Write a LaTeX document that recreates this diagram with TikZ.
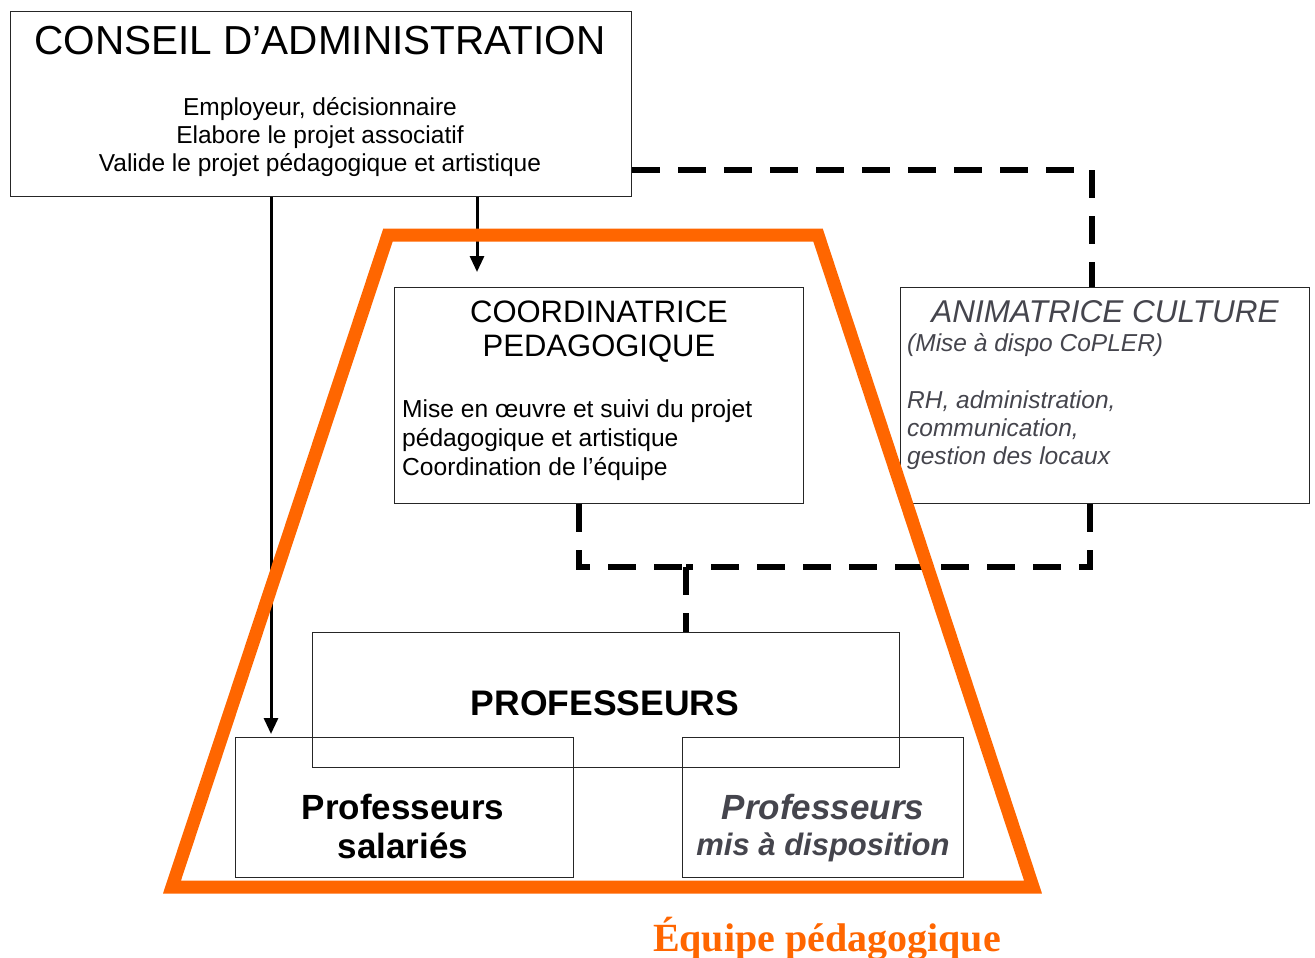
\documentclass[tikz,border=0pt]{standalone}
\usepackage{fontspec}
\setmainfont{Liberation Sans}
\newfontfamily\serifbold{Liberation Serif}
\usetikzlibrary{arrows.meta}
\definecolor{orng}{HTML}{FF6600}
\definecolor{dgray}{HTML}{45454D}
\newcommand\fsz[1]{\fontsize{#1}{#1}\selectfont}
\begin{document}
\begin{tikzpicture}[x=1pt,y=-1pt,
  box/.style={draw=black!85, line width=1.3pt, anchor=north west, inner sep=0pt},
  txt/.style={inner sep=0pt, anchor=base},
  ltxt/.style={inner sep=0pt, anchor=base west},
  dsh/.style={line width=6pt, dash pattern=on 28pt off 18pt},
  arr/.style={line width=3pt, -{Triangle[length=16pt,width=14pt]}},
  trap/.style={draw=orng, line width=13pt, line join=miter}]
\useasboundingbox (0,0) rectangle (1315,958);
\fill[white] (0,0) rectangle (1315,958);

% boxes
\node[box, minimum width=621pt, minimum height=185pt] (conseil) at (10,11) {};
\node[box, minimum width=409pt, minimum height=216pt] (coord) at (394,287) {};
\node[box, minimum width=409pt, minimum height=216pt] (anim) at (900,287) {};
\node[box, minimum width=587pt, minimum height=135pt] (prof) at (312,632) {};
\node[box, minimum width=338pt, minimum height=140pt] (salar) at (235,737) {};
\node[box, minimum width=281pt, minimum height=140pt] (mad) at (682,737) {};

% texts conseil
\node[txt] (t1) at (320,55) {\fsz{40.5}CONSEIL D’ADMINISTRATION};
\node[txt] (t2) at (320,115) {\fsz{24.5}Employeur, décisionnaire};
\node[txt] (t3) at (320,143) {\fsz{24.5}Elabore le projet associatif};
\node[txt] (t4) at (320,171.5) {\fsz{24.5}Valide le projet pédagogique et artistique};

% coordinatrice
\node[txt] (c1) at (599,322) {\fsz{31}COORDINATRICE};
\node[txt] (c2) at (599,356) {\fsz{31}PEDAGOGIQUE};
\node[ltxt] (c3) at (402,417) {\fsz{24.6}Mise en œuvre et suivi du projet};
\node[ltxt] (c4) at (402,446) {\fsz{24.6}pédagogique et artistique};
\node[ltxt] (c5) at (402,475) {\fsz{24.6}Coordination de l’équipe};

% animatrice
\node[txt, text=dgray] (a1) at (1105,322) {\fsz{31.5}\itshape ANIMATRICE CULTURE};
\node[ltxt, text=dgray] (a2) at (907,351) {\fsz{24.5}\itshape (Mise à dispo CoPLER)};
\node[ltxt, text=dgray] (a3) at (907,408) {\fsz{24.5}\itshape RH, administration,};
\node[ltxt, text=dgray] (a4) at (907,436) {\fsz{24.5}\itshape communication,};
\node[ltxt, text=dgray] (a5) at (907,464) {\fsz{24.5}\itshape gestion des locaux};

% professeurs
\node[txt] (p1) at (605,715) {\fsz{35.5}\bfseries PROFESSEURS};
\node[txt] (s1) at (403,819) {\fsz{35}\bfseries Professeurs};
\node[txt] (s2) at (403,858) {\fsz{35}\bfseries salariés};
\node[txt, text=dgray] (m1) at (823,819) {\fsz{35}\bfseries\itshape Professeurs};
\node[txt, text=dgray] (m2) at (823,855) {\fsz{31}\bfseries\itshape mis à disposition};

% dashed connectors
\coordinate (ky) at (0,170);
\coordinate (kx) at (1092,0);
\coordinate (cx) at (579,0);
\coordinate (jy) at (0,567);
\coordinate (ax) at (1090,0);
\coordinate (px) at (686,0);
\draw[dsh] (conseil.east |- ky) -| (anim.north -| kx);
\draw[dsh] (coord.south -| cx) |- (jy -| px);
\draw[dsh] (anim.south -| ax) |- (jy -| px);
\draw[dsh] (jy -| px) -- (prof.north -| px);

% arrows
\coordinate (lx) at (271,0);
\coordinate (mx) at (477,0);
\draw[arr, shorten >=3pt] (conseil.south -| lx) -- (salar.north -| lx);
\draw[arr, shorten >=15pt] (conseil.south -| mx) -- (coord.north -| mx);

% orange trapezoid
\draw[trap] (388,235) -- (818,235) -- (1033,887) -- (172,887) -- cycle;

\node[txt, text=orng] (eq) at (827,951) {\fsz{40}\serifbold\bfseries Équipe pédagogique};
\end{tikzpicture}
\end{document}
